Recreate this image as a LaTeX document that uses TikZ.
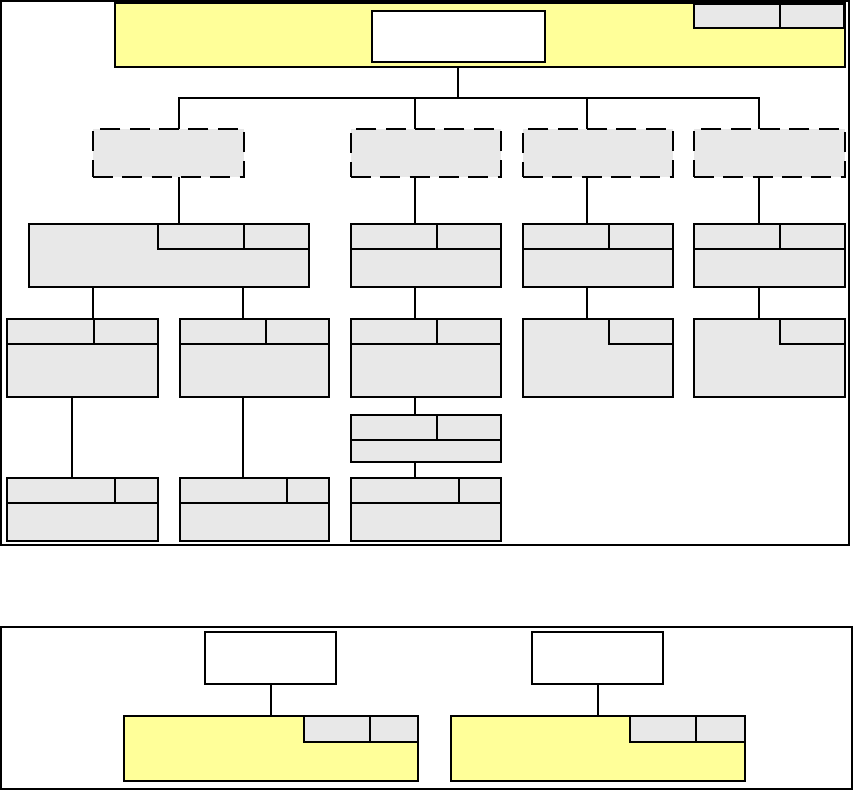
\documentclass[tikz,border=0pt]{standalone}
\usepackage{tikz}
\definecolor{yel}{HTML}{FFFF99}
\definecolor{gry}{HTML}{E8E8E8}
\tikzset{
  bx/.style={draw=black, line width=0.8pt, inner sep=0pt, outer sep=0pt, rectangle},
  ybox/.style={bx, fill=yel},
  gbox/.style={bx, fill=gry},
  wbox/.style={bx, fill=white},
  dbox/.style={bx, fill=gry, dash pattern=on 15pt off 7pt},
  frame/.style={draw=black, line width=0.9pt},
  conn/.style={draw=black, line width=0.8pt}
}
\newcommand\rbox[6]{\node[#6, minimum width={(#4-#2)*0.75pt}, minimum height={(#5-#3)*0.75pt}, anchor=north west] (#1) at (#2,#3) {};}
\begin{document}
\begin{tikzpicture}[x=0.75pt,y=-0.75pt]
\useasboundingbox (0,0) rectangle (853,790);
% frames
\draw[frame] (1,1) rectangle (849,545);
\draw[frame] (1,627) rectangle (852,789);
% top bar
\rbox{top}{115}{3}{845}{67}{ybox}
\rbox{topc1}{694}{4}{780}{28}{gbox}
\rbox{topc2}{780}{4}{844}{28}{gbox}
\rbox{topw}{372}{11}{545}{62}{wbox}
% dashed boxes
\rbox{d1}{93}{129}{244}{177}{dbox}
\rbox{d2}{351}{129}{501}{177}{dbox}
\rbox{d3}{523}{129}{673}{177}{dbox}
\rbox{d4}{694}{129}{845}{177}{dbox}
% row 2
\rbox{A}{29}{224}{309}{287}{gbox}
\rbox{Ac1}{158}{224}{244}{249}{gbox}
\rbox{Ac2}{244}{224}{309}{249}{gbox}
\rbox{B}{351}{224}{501}{287}{gbox}
\rbox{Bc1}{351}{224}{437}{249}{gbox}
\rbox{Bc2}{437}{224}{501}{249}{gbox}
\rbox{C}{523}{224}{673}{287}{gbox}
\rbox{Cc1}{523}{224}{609}{249}{gbox}
\rbox{Cc2}{609}{224}{673}{249}{gbox}
\rbox{D}{694}{224}{845}{287}{gbox}
\rbox{Dc1}{694}{224}{780}{249}{gbox}
\rbox{Dc2}{780}{224}{845}{249}{gbox}
% row 3
\rbox{A1}{7}{319}{158}{397}{gbox}
\rbox{A1c1}{7}{319}{94}{344}{gbox}
\rbox{A1c2}{94}{319}{158}{344}{gbox}
\rbox{A2}{180}{319}{329}{397}{gbox}
\rbox{A2c1}{180}{319}{266}{344}{gbox}
\rbox{A2c2}{266}{319}{329}{344}{gbox}
\rbox{B1}{351}{319}{501}{397}{gbox}
\rbox{B1c1}{351}{319}{437}{344}{gbox}
\rbox{B1c2}{437}{319}{501}{344}{gbox}
\rbox{C1}{523}{319}{673}{397}{gbox}
\rbox{C1c2}{609}{319}{673}{344}{gbox}
\rbox{D1}{694}{319}{845}{397}{gbox}
\rbox{D1c2}{780}{319}{845}{344}{gbox}
\rbox{B2}{351}{415}{501}{462}{gbox}
\rbox{B2c1}{351}{415}{437}{440}{gbox}
\rbox{B2c2}{437}{415}{501}{440}{gbox}
% row 4
\rbox{A3}{7}{478}{158}{541}{gbox}
\rbox{A3c1}{7}{478}{115}{503}{gbox}
\rbox{A3c2}{115}{478}{158}{503}{gbox}
\rbox{A4}{180}{478}{329}{541}{gbox}
\rbox{A4c1}{180}{478}{287}{503}{gbox}
\rbox{A4c2}{287}{478}{329}{503}{gbox}
\rbox{B3}{351}{478}{501}{541}{gbox}
\rbox{B3c1}{351}{478}{459}{503}{gbox}
\rbox{B3c2}{459}{478}{501}{503}{gbox}
% column coordinates
\coordinate (x0) at (458,0);
\coordinate (x1) at (179,0);
\coordinate (x2) at (415,0);
\coordinate (x3) at (587,0);
\coordinate (x4) at (759,0);
\coordinate (xa1) at (93,0);
\coordinate (xa2) at (243,0);
\coordinate (xa3) at (72,0);
\coordinate (bus) at (458,98);
% connectors
\draw[conn] (top.south -| x0) -- (bus);
\draw[conn] (bus) -| (d1.north -| x1);
\draw[conn] (bus) -| (d2.north -| x2);
\draw[conn] (bus) -| (d3.north -| x3);
\draw[conn] (bus) -| (d4.north -| x4);
\draw[conn] (d1.south -| x1) -- (A.north -| x1);
\draw[conn] (d2.south -| x2) -- (B.north -| x2);
\draw[conn] (d3.south -| x3) -- (C.north -| x3);
\draw[conn] (d4.south -| x4) -- (D.north -| x4);
\draw[conn] (A.south -| xa1) -- (A1.north -| xa1);
\draw[conn] (A.south -| xa2) -- (A2.north -| xa2);
\draw[conn] (B.south -| x2) -- (B1.north -| x2);
\draw[conn] (C.south -| x3) -- (C1.north -| x3);
\draw[conn] (D.south -| x4) -- (D1.north -| x4);
\draw[conn] (A1.south -| xa3) -- (A3.north -| xa3);
\draw[conn] (A2.south -| xa2) -- (A4.north -| xa2);
\draw[conn] (B1.south -| x2) -- (B2.north -| x2);
\draw[conn] (B2.south -| x2) -- (B3.north -| x2);
% bottom legend
\rbox{w1}{205}{632}{336}{684}{wbox}
\rbox{y1}{124}{716}{418}{781}{ybox}
\rbox{y1c1}{304}{716}{370}{742}{gbox}
\rbox{y1c2}{370}{716}{418}{742}{gbox}
\rbox{w2}{532}{632}{663}{684}{wbox}
\rbox{y2}{451}{716}{745}{781}{ybox}
\rbox{y2c1}{630}{716}{696}{742}{gbox}
\rbox{y2c2}{696}{716}{745}{742}{gbox}
\coordinate (xb1) at (271,0);
\coordinate (xb2) at (598,0);
\draw[conn] (w1.south -| xb1) -- (y1.north -| xb1);
\draw[conn] (w2.south -| xb2) -- (y2.north -| xb2);
\end{tikzpicture}
\end{document}
